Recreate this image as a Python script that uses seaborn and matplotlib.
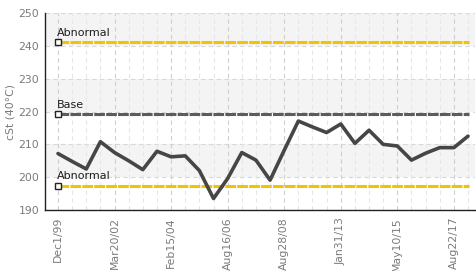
import numpy as np
import pandas as pd
import matplotlib
matplotlib.use("Agg")
import matplotlib.pyplot as plt
import seaborn as sns

# ---- data ----
viscosity = [207.2, 204.8, 202.5, 210.8, 207.5, 205.0, 202.3, 207.9, 206.2, 206.5,
             202.0, 193.5, 199.6, 207.5, 205.2, 199.1, 208.2, 217.1, 215.3, 213.6,
             216.2, 210.3, 214.3, 210.0, 209.5, 205.2, 207.3, 209.0, 209.0, 212.5]
major_labels = ["Dec1/99", "Mar20/02", "Feb15/04", "Aug16/06", "Aug28/08",
                "Jan31/13", "May10/15", "Aug22/17"]
major_positions = [0, 4, 8, 12, 16, 20, 24, 28]
base_value = 219.3
upper_abnormal = 241.2
lower_abnormal = 197.4
ref_labels = ["Abnormal", "Base", "Abnormal"]
ref_values = [upper_abnormal, base_value, lower_abnormal]
ref_colors = ["#f2c300", "#5c5c5c", "#f2c300"]
y_ticks = [190, 200, 210, 220, 230, 240, 250]

df = pd.DataFrame({"idx": np.arange(len(viscosity)), "cst": viscosity})

sns.set_style("white")
plt.rcParams["font.family"] = ["DejaVu Sans"]

fig = plt.figure(figsize=(4.77, 2.71), dpi=100)
ax = fig.add_axes([0.0943, 0.225, 0.9017, 0.727])

# alternating bands
for lo in [200, 220, 240]:
    ax.axhspan(lo, lo + 10, color="#f4f4f4", zorder=0, lw=0)

# gridlines
for v in y_ticks:
    ax.axhline(v, color="#d8d8d8", lw=0.8, ls=(0, (4, 3)), zorder=1)
for i in range(len(viscosity)):
    major = i in major_positions
    ax.axvline(i, color="#cfcfcf" if major else "#e6e6e6", lw=0.8,
               ls=(0, (4, 3)), zorder=1)

# reference lines
for lab, val, col in zip(ref_labels, ref_values, ref_colors):
    ax.axhline(val, xmin=0.03, xmax=0.985, color=col, lw=2.2,
               ls=(0, (3.5, 0.4)), zorder=2)
    ax.plot([0], [val], marker="s", ms=4.5, mfc="white", mec="#222222",
            mew=1.0, zorder=4, clip_on=False)
    ax.text(-0.05, val + 1.3, lab, fontsize=8, color="#1e1e1e",
            ha="left", va="bottom", zorder=5)

# data line
sns.lineplot(data=df, x="idx", y="cst", ax=ax, color="#464646", lw=2.6,
             zorder=3)

ax.set_xlim(-0.92, 29.5)
ax.set_ylim(190, 250)
ax.set_yticks(y_ticks)
ax.set_yticklabels([str(v) for v in y_ticks])
ax.set_xticks(major_positions)
ax.set_xticklabels(major_labels, rotation=90)
ax.tick_params(axis="both", direction="inout", length=6, width=1.0,
               color="#222222", labelcolor="#7a7a7a", labelsize=7.8)
ax.tick_params(axis="y", pad=1)
ax.tick_params(axis="x", pad=2)

ax.set_xlabel("")
ax.set_ylabel("cSt (40°C)", fontsize=7.8, color="#7a7a7a", labelpad=2)

for s in ["top", "right"]:
    ax.spines[s].set_visible(False)
for s in ["left", "bottom"]:
    ax.spines[s].set_color("#222222")
    ax.spines[s].set_linewidth(1.0)

fig.savefig("out.png", dpi=100)
